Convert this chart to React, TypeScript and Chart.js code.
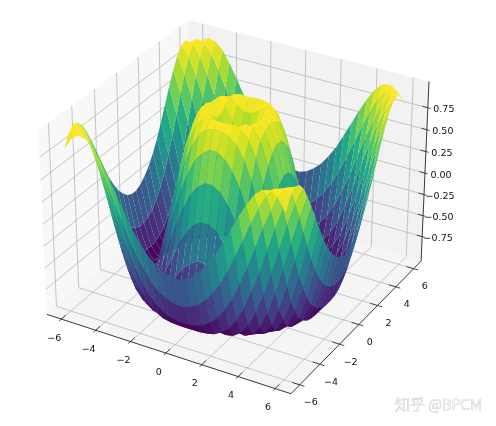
import React, { useEffect, useRef } from "react";
import { Chart, registerables } from "chart.js";

Chart.register(...registerables);

// Positive half of the x / y grid; the surface is mirrored across both axes.
const gridHalf = [0.21, 0.62, 1.03, 1.45, 1.86, 2.28, 2.69, 3.1, 3.52, 3.93, 4.34, 4.76, 5.17, 5.59, 6.0];

// Heights read for the x>0, y>0 quadrant.
const zRow01 = [0.29, 0.61, 0.87, 0.99, 0.95, 0.76, 0.43, 0.03, -0.37, -0.71, -0.93, -1.0, -0.89, -0.64, -0.28];
const zRow02 = [0.61, 0.77, 0.93, 1.0, 0.92, 0.7, 0.37, -0.02, -0.42, -0.74, -0.95, -1.0, -0.88, -0.61, -0.25];
const zRow03 = [0.87, 0.93, 0.99, 0.98, 0.85, 0.6, 0.26, -0.13, -0.5, -0.8, -0.97, -0.99, -0.85, -0.57, -0.19];
const zRow04 = [0.99, 1.0, 0.98, 0.89, 0.7, 0.43, 0.09, -0.28, -0.62, -0.87, -0.99, -0.97, -0.79, -0.49, -0.11];
const zRow05 = [0.95, 0.92, 0.85, 0.7, 0.49, 0.2, -0.13, -0.46, -0.74, -0.93, -1.0, -0.92, -0.71, -0.38, 0.0];
const zRow06 = [0.76, 0.7, 0.6, 0.43, 0.2, -0.08, -0.37, -0.65, -0.87, -0.99, -0.98, -0.85, -0.59, -0.25, 0.13];
const zRow07 = [0.43, 0.37, 0.26, 0.09, -0.13, -0.37, -0.62, -0.82, -0.96, -1.0, -0.92, -0.73, -0.44, -0.08, 0.29];
const zRow08 = [0.03, -0.02, -0.13, -0.28, -0.46, -0.65, -0.82, -0.95, -1.0, -0.96, -0.81, -0.57, -0.25, 0.11, 0.45];
const zRow09 = [-0.37, -0.42, -0.5, -0.62, -0.74, -0.87, -0.96, -1.0, -0.97, -0.85, -0.64, -0.35, -0.03, 0.31, 0.62];
const zRow10 = [-0.71, -0.74, -0.8, -0.87, -0.93, -0.99, -1.0, -0.96, -0.85, -0.66, -0.41, -0.11, 0.21, 0.52, 0.77];
const zRow11 = [-0.93, -0.95, -0.97, -0.99, -1.0, -0.98, -0.92, -0.81, -0.64, -0.41, -0.14, 0.16, 0.45, 0.71, 0.9];
const zRow12 = [-1.0, -1.0, -0.99, -0.97, -0.92, -0.85, -0.73, -0.57, -0.35, -0.11, 0.16, 0.43, 0.67, 0.87, 0.98];
const zRow13 = [-0.89, -0.88, -0.85, -0.79, -0.71, -0.59, -0.44, -0.25, -0.03, 0.21, 0.45, 0.67, 0.86, 0.97, 1.0];
const zRow14 = [-0.64, -0.61, -0.57, -0.49, -0.38, -0.25, -0.08, 0.11, 0.31, 0.52, 0.71, 0.87, 0.97, 1.0, 0.94];
const zRow15 = [-0.28, -0.25, -0.19, -0.11, 0.0, 0.13, 0.29, 0.45, 0.62, 0.77, 0.9, 0.98, 1.0, 0.94, 0.81];
const zQuadrant = [zRow01, zRow02, zRow03, zRow04, zRow05, zRow06, zRow07, zRow08, zRow09, zRow10, zRow11, zRow12, zRow13, zRow14, zRow15];

const xTicks = [-6, -4, -2, 0, 2, 4, 6];
const yTicks = [-6, -4, -2, 0, 2, 4, 6];
const zTicks = [-0.75, -0.5, -0.25, 0, 0.25, 0.5, 0.75];

const viridis = ["#440154", "#482576", "#414487", "#355f8d", "#2a788e", "#21918c", "#22a884", "#44bf70", "#7ad151", "#bddf26", "#fde725"];

const XY_LIMIT = 6.85;
const Z_LIMIT = 1.045;
const HALF_XY = 0.5714;
const HALF_Z = 0.4286;
const VIEW_DIST = 10;

function project(x: number, y: number, z: number) {
  const a = (x / XY_LIMIT) * HALF_XY;
  const b = (y / XY_LIMIT) * HALF_XY;
  const c = (z / Z_LIMIT) * HALF_Z;
  const w = VIEW_DIST - (0.433 * a - 0.75 * b + 0.5 * c);
  return {
    x: (0.866 * a + 0.5 * b) / w,
    y: (-0.25 * a + 0.433 * b + 0.866 * c) / w,
    w,
  };
}

function colour(t: number) {
  const p = Math.max(0, Math.min(1, t)) * (viridis.length - 1);
  const i = Math.min(viridis.length - 2, Math.floor(p));
  const f = p - i;
  const parse = (h: string) => [1, 3, 5].map((k) => parseInt(h.slice(k, k + 2), 16));
  const A = parse(viridis[i]);
  const B = parse(viridis[i + 1]);
  return `rgb(${A.map((v, k) => Math.round(v + (B[k] - v) * f)).join(",")})`;
}

const lineSet = (pts: number[][], color: string, width: number) => ({
  data: pts.map((p) => project(p[0], p[1], p[2])),
  showLine: true,
  fill: false,
  borderColor: color,
  borderWidth: width,
  pointRadius: 0,
  tension: 0,
});

const polySet = (pts: number[][], color: string) => {
  const closed = [...pts, pts[0]];
  return {
    data: closed.map((p) => project(p[0], p[1], p[2])),
    showLine: true,
    fill: "shape",
    backgroundColor: color,
    borderWidth: 0,
    borderColor: color,
    pointRadius: 0,
    tension: 0,
  };
};

function surfaceSets() {
  const coords = [...gridHalf.slice().reverse().map((v) => -v), ...gridHalf];
  const at = (i: number) => (i < 15 ? 14 - i : i - 15);
  const height = (i: number, j: number) => zQuadrant[at(i)][at(j)];
  const quads: { pts: number[][]; avg: number; depth: number }[] = [];
  for (let i = 0; i < 29; i++) {
    for (let j = 0; j < 29; j++) {
      const pts = [
        [coords[i], coords[j], height(i, j)],
        [coords[i + 1], coords[j], height(i + 1, j)],
        [coords[i + 1], coords[j + 1], height(i + 1, j + 1)],
        [coords[i], coords[j + 1], height(i, j + 1)],
      ];
      const avg = pts.reduce((s, p) => s + p[2], 0) / 4;
      const depth = pts.reduce((s, p) => s + project(p[0], p[1], p[2]).w, 0) / 4;
      quads.push({ pts, avg, depth });
    }
  }
  const lo = Math.min(...quads.map((q) => q.avg));
  const hi = Math.max(...quads.map((q) => q.avg));
  quads.sort((a, b) => a.depth - b.depth); // index 0 is painted last
  return quads.map((q) => polySet(q.pts, colour((q.avg - lo) / (hi - lo))));
}

function frameSets() {
  const L = XY_LIMIT;
  const Z = Z_LIMIT;
  const grid = "#b8b8b8";
  const ink = "#222222";
  const sets: any[] = [];
  for (const t of xTicks) {
    sets.push(lineSet([[t, -L - 0.2, -Z], [t, -L + 0.4, -Z]], ink, 0.8));
  }
  for (const t of yTicks) {
    sets.push(lineSet([[L + 0.25, t, -Z], [L - 0.4, t, -Z]], ink, 0.8));
  }
  for (const t of zTicks) {
    sets.push(lineSet([[L + 0.15, L, t], [L - 0.3, L, t]], ink, 0.8));
  }
  sets.push(lineSet([[-L, -L, -Z], [L, -L, -Z]], ink, 0.9));
  sets.push(lineSet([[L, -L, -Z], [L, L, -Z]], ink, 0.9));
  sets.push(lineSet([[L, L, -Z], [L, L, Z]], ink, 0.9));
  for (const t of xTicks) {
    sets.push(lineSet([[t, -L, -Z], [t, L, -Z], [t, L, Z]], grid, 0.8));
  }
  for (const t of yTicks) {
    sets.push(lineSet([[L, t, -Z], [-L, t, -Z], [-L, t, Z]], grid, 0.8));
  }
  for (const t of zTicks) {
    sets.push(lineSet([[-L, -L, t], [-L, L, t], [L, L, t]], grid, 0.8));
  }
  sets.push(polySet([[-L, -L, -Z], [L, -L, -Z], [L, L, -Z], [-L, L, -Z]], "#f5f5f5"));
  sets.push(polySet([[-L, L, -Z], [L, L, -Z], [L, L, Z], [-L, L, Z]], "#f2f2f2"));
  sets.push(polySet([[-L, -L, -Z], [-L, L, -Z], [-L, L, Z], [-L, -L, Z]], "#f8f8f8"));
  return sets;
}

const tickText = (v: number, digits: number) => (v < 0 ? "\u2212" : "") + Math.abs(v).toFixed(digits);

const labelPlugin = {
  id: "axisText",
  afterDraw(chart: any) {
    const { ctx, scales } = chart;
    const px = (x: number, y: number, z: number) => {
      const p = project(x, y, z);
      return [scales.x.getPixelForValue(p.x), scales.y.getPixelForValue(p.y)];
    };
    ctx.save();
    ctx.fillStyle = "#111111";
    ctx.font = "9.5px 'DejaVu Sans'";
    ctx.textAlign = "center";
    ctx.textBaseline = "middle";
    for (const t of xTicks) {
      const [a, b] = px(t, -XY_LIMIT, -Z_LIMIT);
      ctx.fillText(tickText(t, 0), a - 7, b + 19);
    }
    for (const t of yTicks) {
      const [a, b] = px(XY_LIMIT, t, -Z_LIMIT);
      ctx.fillText(tickText(t, 0), a + 11, b + 18);
    }
    for (const t of zTicks) {
      const [a, b] = px(XY_LIMIT, XY_LIMIT, t);
      ctx.fillText(tickText(t, 2), a + 16, b + 2);
    }
    ctx.font = "300 15px 'Noto Sans CJK SC'";
    ctx.textAlign = "left";
    ctx.lineWidth = 0.7;
    ctx.strokeStyle = "rgba(175,175,175,0.85)";
    ctx.strokeText("\u77e5\u4e4e @BPCM", 395, 404);
    ctx.fillStyle = "rgba(255,255,255,0.9)";
    ctx.fillText("\u77e5\u4e4e @BPCM", 395, 404);
    ctx.restore();
  },
};

export default function App() {
  const ref = useRef<HTMLCanvasElement>(null);
  useEffect(() => {
    document.body.style.margin = "0";
    const chart = new Chart(ref.current as HTMLCanvasElement, {
      type: "scatter",
      data: { datasets: [...surfaceSets(), ...frameSets()] as any },
      plugins: [labelPlugin],
      options: {
        animation: false,
        responsive: false,
        events: [],
        layout: { padding: 0 },
        plugins: { legend: { display: false }, tooltip: { enabled: false } },
        scales: {
          x: { type: "linear", display: false, min: -0.09694, max: 0.10568 },
          y: { type: "linear", display: false, min: -0.093, max: 0.081 },
        },
      },
    });
    return () => chart.destroy();
  }, []);
  return <canvas ref={ref} width={496} height={426} style={{ display: "block" }} />;
}
